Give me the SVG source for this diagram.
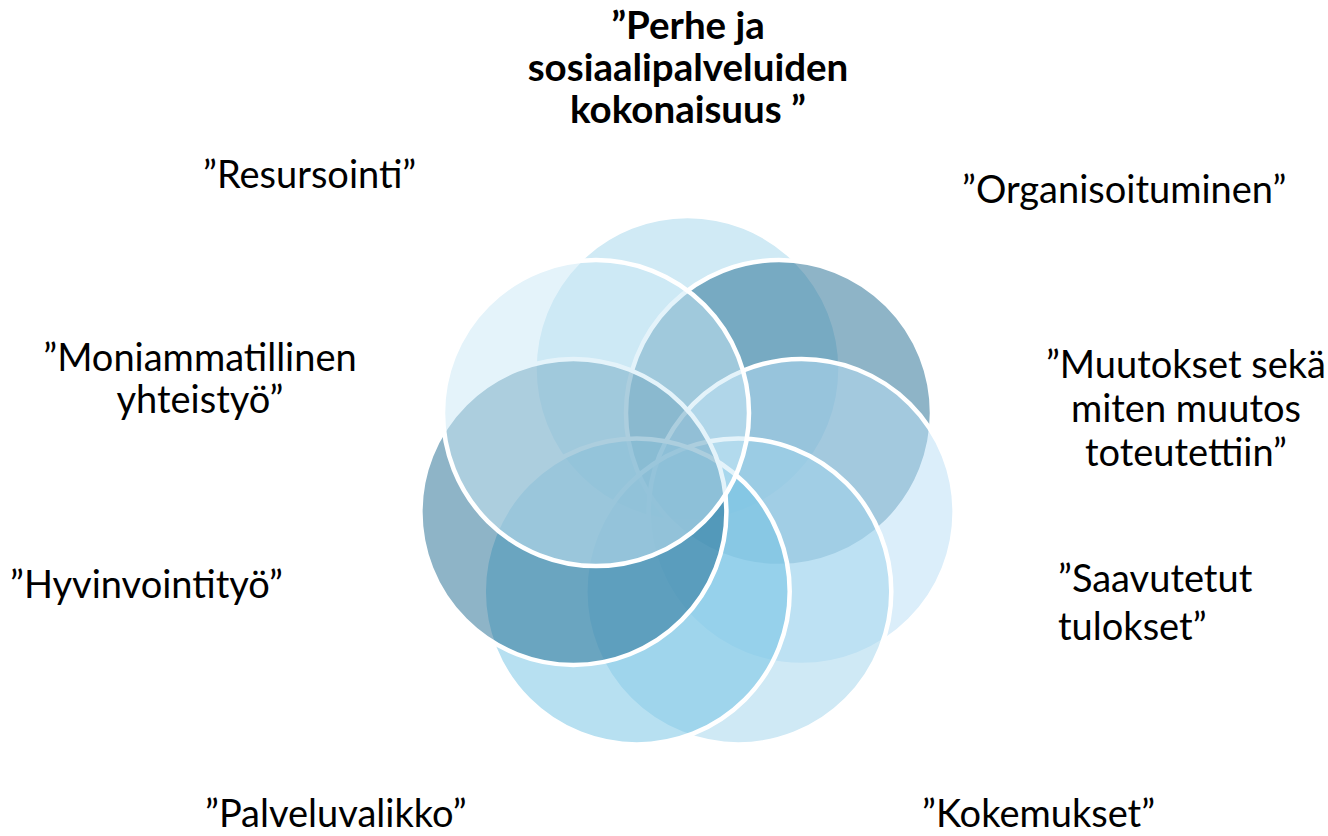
<svg xmlns="http://www.w3.org/2000/svg" width="1328" height="836" viewBox="0 0 1328 836">
  <style>
    .c { stroke: #ffffff; stroke-width: 4.5; fill-opacity: 0.5; }
    .lbl { font-family: Lato, "Open Sans", "Liberation Sans", sans-serif; font-size: 38px; fill: #000000; }
    .ttl { font-family: Lato, "Open Sans", "Liberation Sans", sans-serif; font-size: 38.5px; font-weight: bold; fill: #000000; text-anchor: middle; }
    .mid { text-anchor: middle; }
  </style>
  <rect x="0" y="0" width="1328" height="836" fill="#ffffff"/>
  <g id="circles">
    <g id="circle-1"><circle class="c" cx="687.5" cy="369" r="153" fill="#a1d5eb"/></g>
    <g id="circle-2"><circle class="c" cx="779" cy="413.1" r="153" fill="#1d698f"/></g>
    <g id="circle-3"><circle class="c" cx="801.6" cy="512" r="153" fill="#b7ddf5"/></g>
    <g id="circle-4"><circle class="c" cx="738.3" cy="591.4" r="153" fill="#9fd3eb"/></g>
    <g id="circle-5"><circle class="c" cx="636.7" cy="591.4" r="153" fill="#6fc1e3"/></g>
    <g id="circle-6"><circle class="c" cx="573.4" cy="512" r="153" fill="#1d698f"/></g>
    <g id="circle-7"><circle class="c" cx="596" cy="413.1" r="153" fill="#c9e7f5"/></g>
  </g>
  <g id="title">
    <text class="ttl" x="688" y="39">”Perhe ja</text>
    <text class="ttl" x="688" y="81">sosiaalipalveluiden</text>
    <text class="ttl" x="688" y="123">kokonaisuus ”</text>
  </g>
  <g id="label-resursointi"><text class="lbl" x="203" y="188">”Resursointi”</text></g>
  <g id="label-organisoituminen"><text class="lbl" x="962" y="203">”Organisoituminen”</text></g>
  <g id="label-muutokset">
    <text class="lbl mid" x="1186" y="378">”Muutokset sekä</text>
    <text class="lbl mid" x="1186" y="422">miten muutos</text>
    <text class="lbl mid" x="1186" y="466">toteutettiin”</text>
  </g>
  <g id="label-saavutetut">
    <text class="lbl" x="1058" y="592">”Saavutetut</text>
    <text class="lbl" x="1058" y="640">tulokset”</text>
  </g>
  <g id="label-kokemukset"><text class="lbl" x="922" y="827">”Kokemukset”</text></g>
  <g id="label-palveluvalikko"><text class="lbl" x="205" y="827">”Palveluvalikko”</text></g>
  <g id="label-hyvinvointityo"><text class="lbl" x="10" y="598">”Hyvinvointityö”</text></g>
  <g id="label-moniammatillinen">
    <text class="lbl mid" x="200" y="371">”Moniammatillinen</text>
    <text class="lbl mid" x="200" y="413">yhteistyö”</text>
  </g>
</svg>
